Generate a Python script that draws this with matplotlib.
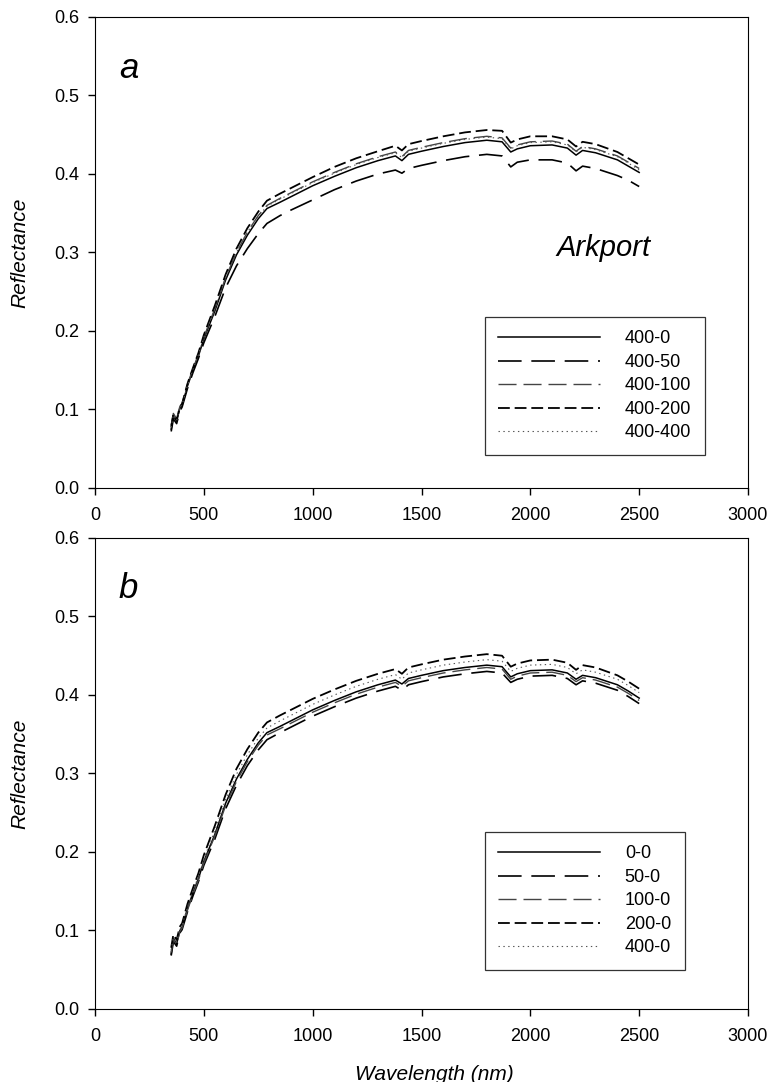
import matplotlib
matplotlib.use('Agg')
import matplotlib.pyplot as plt

plt.rcParams['font.family'] = ['Liberation Sans', 'DejaVu Sans']
plt.rcParams['lines.scale_dashes'] = False

wl = [350, 360, 375, 390, 400, 425, 450, 475, 500, 550, 600, 650, 700, 750, 790, 850, 900, 1000,
      1100, 1200, 1300, 1380, 1410, 1440, 1500, 1600, 1700, 1800, 1870, 1910, 1940, 2000, 2100,
      2170, 2210, 2240, 2300, 2400, 2450, 2500]

# panel a
a_400_0 = [0.075, 0.092, 0.085, 0.102, 0.105, 0.13, 0.15, 0.168, 0.19, 0.225, 0.265, 0.297, 0.322,
           0.343, 0.356, 0.364, 0.371, 0.385, 0.397, 0.408, 0.417, 0.423, 0.417, 0.425, 0.429, 0.435,
           0.44, 0.443, 0.441, 0.428, 0.432, 0.436, 0.437, 0.433, 0.424, 0.43, 0.427, 0.418, 0.41, 0.402]
a_400_50 = [0.072, 0.088, 0.082, 0.098, 0.103, 0.127, 0.147, 0.165, 0.185, 0.218, 0.255, 0.283, 0.305,
            0.324, 0.337, 0.347, 0.354, 0.367, 0.38, 0.391, 0.4, 0.405, 0.401, 0.407, 0.411, 0.417,
            0.422, 0.425, 0.423, 0.409, 0.415, 0.418, 0.418, 0.414, 0.404, 0.41, 0.407, 0.398, 0.392, 0.384]
a_400_100 = [0.08, 0.095, 0.088, 0.104, 0.108, 0.132, 0.152, 0.17, 0.192, 0.228, 0.268, 0.3, 0.326,
             0.347, 0.36, 0.369, 0.376, 0.39, 0.402, 0.413, 0.422, 0.428, 0.422, 0.43, 0.434, 0.44,
             0.445, 0.448, 0.446, 0.433, 0.437, 0.441, 0.442, 0.438, 0.429, 0.435, 0.432, 0.423, 0.415, 0.407]
a_400_200 = [0.078, 0.094, 0.087, 0.103, 0.107, 0.133, 0.153, 0.172, 0.195, 0.232, 0.272, 0.305, 0.331,
             0.352, 0.366, 0.375, 0.382, 0.396, 0.409, 0.42, 0.429, 0.436, 0.43, 0.438, 0.442, 0.448,
             0.453, 0.456, 0.455, 0.44, 0.444, 0.448, 0.448, 0.444, 0.435, 0.441, 0.438, 0.428, 0.42, 0.412]
a_400_400 = [0.077, 0.093, 0.086, 0.103, 0.106, 0.131, 0.151, 0.17, 0.192, 0.228, 0.268, 0.3, 0.326,
             0.346, 0.359, 0.368, 0.375, 0.389, 0.401, 0.412, 0.421, 0.427, 0.421, 0.429, 0.433, 0.439,
             0.444, 0.447, 0.445, 0.432, 0.436, 0.44, 0.441, 0.437, 0.428, 0.434, 0.431, 0.422, 0.414, 0.405]

# panel b
b_0_0 = [0.07, 0.09, 0.083, 0.1, 0.104, 0.128, 0.148, 0.166, 0.188, 0.222, 0.262, 0.293, 0.318,
         0.339, 0.352, 0.36, 0.367, 0.381, 0.393, 0.404, 0.413, 0.419, 0.414, 0.421, 0.425, 0.431,
         0.435, 0.438, 0.436, 0.423, 0.427, 0.431, 0.432, 0.428, 0.42, 0.425, 0.422, 0.413, 0.405, 0.396]
b_50_0 = [0.068, 0.086, 0.08, 0.097, 0.101, 0.124, 0.144, 0.162, 0.183, 0.216, 0.255, 0.285, 0.31,
          0.33, 0.343, 0.352, 0.359, 0.373, 0.385, 0.396, 0.405, 0.411, 0.406, 0.413, 0.417, 0.423,
          0.427, 0.43, 0.428, 0.416, 0.42, 0.424, 0.425, 0.421, 0.413, 0.418, 0.415, 0.406, 0.398, 0.389]
b_100_0 = [0.072, 0.089, 0.082, 0.099, 0.103, 0.126, 0.146, 0.164, 0.186, 0.22, 0.259, 0.29, 0.315,
           0.336, 0.349, 0.357, 0.364, 0.378, 0.39, 0.401, 0.41, 0.416, 0.411, 0.418, 0.422, 0.428,
           0.432, 0.435, 0.433, 0.42, 0.424, 0.428, 0.429, 0.425, 0.417, 0.422, 0.419, 0.41, 0.402, 0.393]
b_200_0 = [0.078, 0.095, 0.088, 0.105, 0.109, 0.134, 0.154, 0.173, 0.196, 0.233, 0.273, 0.306, 0.331,
           0.352, 0.365, 0.374, 0.381, 0.395, 0.407, 0.418, 0.427, 0.433, 0.427, 0.435, 0.439, 0.445,
           0.449, 0.452, 0.45, 0.436, 0.44, 0.444, 0.445, 0.441, 0.432, 0.438, 0.435, 0.425, 0.417, 0.408]
b_400_0 = [0.075, 0.092, 0.085, 0.102, 0.106, 0.13, 0.15, 0.169, 0.191, 0.227, 0.267, 0.299, 0.324,
           0.345, 0.358, 0.367, 0.374, 0.388, 0.4, 0.411, 0.42, 0.426, 0.42, 0.428, 0.432, 0.438,
           0.442, 0.445, 0.443, 0.43, 0.434, 0.438, 0.439, 0.435, 0.427, 0.432, 0.429, 0.42, 0.412, 0.403]

labels_a = ['400-0', '400-50', '400-100', '400-200', '400-400']
labels_b = ['0-0', '50-0', '100-0', '200-0', '400-0']

styles = [
    dict(color='black', lw=1.1, linestyle='-'),
    dict(color='black', lw=1.2, linestyle=(0, (17, 7))),
    dict(color='#444444', lw=1.0, linestyle=(0, (13, 5))),
    dict(color='black', lw=1.3, linestyle=(0, (8.5, 3.5))),
    dict(color='#555555', lw=0.8, linestyle=(0, (1, 2.5))),
]

fig = plt.figure(figsize=(7.8, 10.82), dpi=100)
ax1 = fig.add_axes([0.1218, 0.549, 0.959 - 0.1218, 0.9843 - 0.549])
ax2 = fig.add_axes([0.1218, 0.0675, 0.959 - 0.1218, 0.5028 - 0.0675])


def draw(ax, series, labels, letter, leg_anchor):
    for ys, lab, st in zip(series, labels, styles):
        ax.plot(wl, ys, label=lab, **st)
    ax.set_xlim(0, 3000)
    ax.set_ylim(0, 0.6)
    ax.set_xticks([0, 500, 1000, 1500, 2000, 2500, 3000])
    ax.set_yticks([0.0, 0.1, 0.2, 0.3, 0.4, 0.5, 0.6])
    ax.yaxis.set_major_formatter(matplotlib.ticker.FormatStrFormatter('%.1f'))
    ax.tick_params(direction='out', length=5, width=1, labelsize=13, top=False, right=False)
    ax.tick_params(axis='x', pad=9)
    ax.tick_params(axis='y', pad=6)
    ax.set_ylabel('Reflectance', fontsize=15, style='italic')
    ax.yaxis.set_label_coords(-0.10, 0.5)
    ax.text(110, 0.535, letter, fontsize=25, style='italic', va='center')
    leg = ax.legend(loc='lower left', bbox_to_anchor=leg_anchor, fontsize=13,
                    handlelength=5.6, handletextpad=1.4, labelspacing=0.36,
                    borderpad=0.75, fancybox=False, frameon=True, borderaxespad=0)
    leg.get_frame().set_edgecolor('black')
    leg.get_frame().set_linewidth(0.9)


draw(ax1, [a_400_0, a_400_50, a_400_100, a_400_200, a_400_400], labels_a, 'a', (0.597, 0.07))
draw(ax2, [b_0_0, b_50_0, b_100_0, b_200_0, b_400_0], labels_b, 'b', (0.597, 0.083))
ax1.text(2122, 0.306, 'Arkport', fontsize=21, style='italic', va='center')
ax2.set_xlabel('Wavelength (nm)', fontsize=15, style='italic')
ax2.xaxis.set_label_coords(0.52, -0.118)

fig.savefig('out.png', dpi=100)
